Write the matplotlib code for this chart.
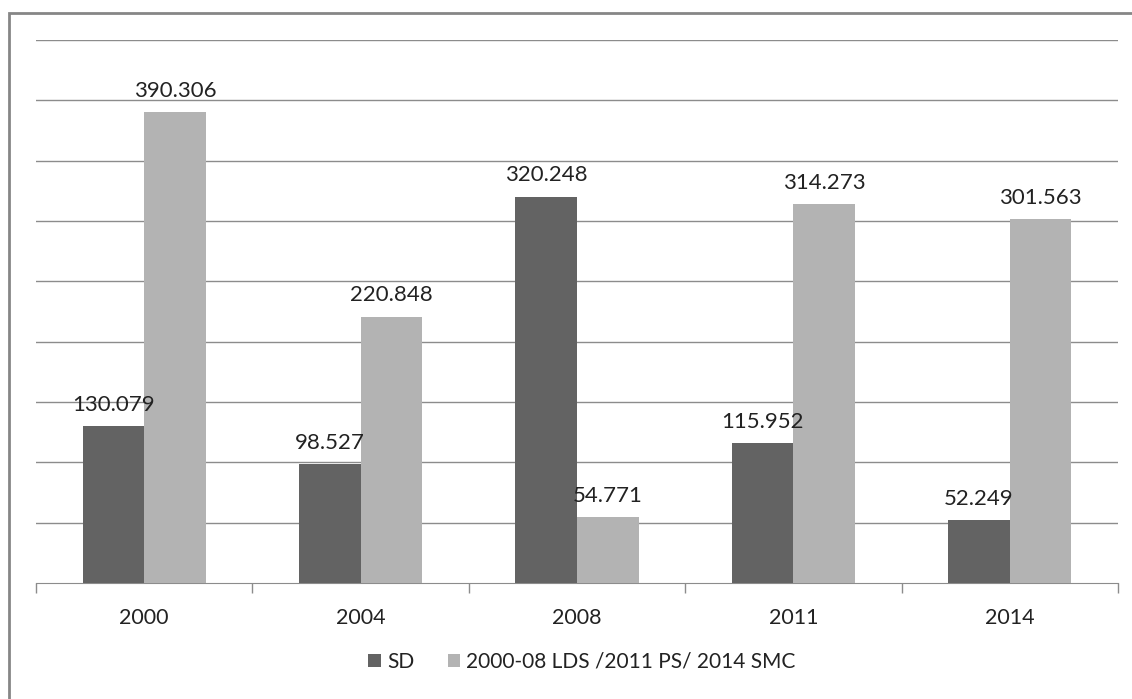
import numpy as np
import matplotlib.pyplot as plt
from matplotlib.patches import Rectangle

years = ["2000", "2004", "2008", "2011", "2014"]
sd_values = [130.079, 98.527, 320.248, 115.952, 52.249]
other_values = [390.306, 220.848, 54.771, 314.273, 301.563]
sd_label = "SD"
other_label = "2000-08 LDS /2011 PS/ 2014 SMC"

DARK = "#636363"
LIGHT = "#b3b3b3"
GRID = "#8c8c8c"
TEXT = "#222222"

plt.rcParams["font.family"] = ["Lato", "DejaVu Sans"]

fig = plt.figure(figsize=(11.32, 6.99), dpi=100)
ax = fig.add_axes([36 / 1132, 1 - 583 / 699, (1118 - 36) / 1132, (583 - 40) / 699])

x = np.arange(len(years))
width = 0.285

bars_sd = ax.bar(x - width / 2, sd_values, width, color=DARK, label=sd_label, zorder=3)
bars_other = ax.bar(x + width / 2, other_values, width, color=LIGHT, label=other_label, zorder=3)

for bars, values in [(bars_sd, sd_values), (bars_other, other_values)]:
    for bar, value in zip(bars, values):
        ax.annotate(
            f"{value:.3f}",
            (bar.get_x() + bar.get_width() / 2, value),
            xytext=(0, 8),
            textcoords="offset points",
            ha="center",
            va="bottom",
            fontsize=16,
            color=TEXT,
            zorder=4,
        )

ax.set_xlim(-0.5, len(years) - 0.5)
ax.set_ylim(0, 450)
ax.set_yticks(np.arange(50, 451, 50))
ax.yaxis.grid(True, color=GRID, linewidth=1)
ax.tick_params(axis="y", left=False, labelleft=False)

ax.set_xticks(x)
ax.set_xticklabels(years, fontsize=15.5, color=TEXT)
ax.tick_params(axis="x", which="major", length=0, pad=18)
ax.set_xticks(np.arange(-0.5, len(years)), minor=True)
ax.tick_params(axis="x", which="minor", length=7, color=GRID, width=1)

for side in ["top", "right", "left"]:
    ax.spines[side].set_visible(False)
ax.spines["bottom"].set_color(GRID)

fig.legend(
    loc="center",
    bbox_to_anchor=(582 / 1132, 1 - 662 / 699),
    ncol=2,
    frameon=False,
    fontsize=15,
    handlelength=0.6,
    handleheight=0.6,
    handletextpad=0.3,
    columnspacing=1.6,
    labelcolor=TEXT,
)

fig.patches.append(
    Rectangle(
        (9 / 1132, -0.1),
        1.2,
        1.1 - 13 / 699,
        transform=fig.transFigure,
        fill=False,
        edgecolor="#868686",
        linewidth=2,
    )
)

fig.savefig("out.png", dpi=100)
